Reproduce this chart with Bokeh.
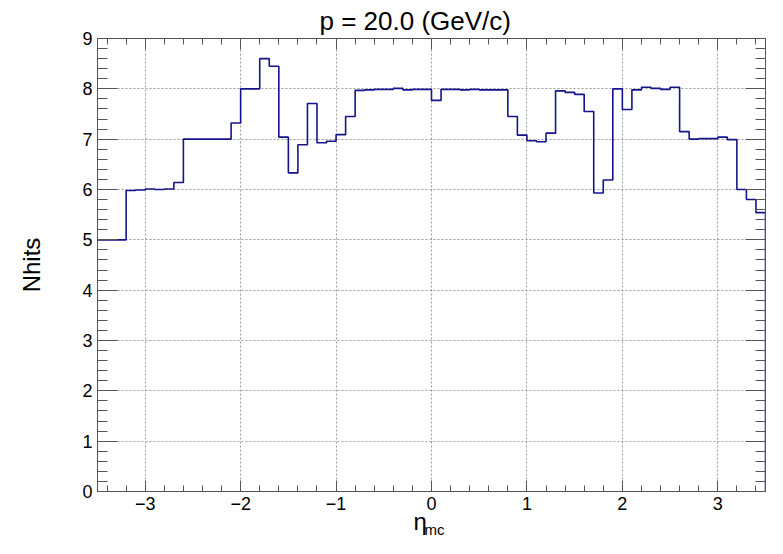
import numpy as np
from bokeh.plotting import figure
from bokeh.models import (Range1d, LinearAxis, SingleIntervalTicker, Title,
                          CustomJSTickFormatter)
from bokeh.embed import file_html
from bokeh.resources import INLINE

# ---- data: mean Nhits per eta bin (bin width 0.1, from -3.5 to 3.5) ----
bin_low = -3.5
bin_width = 0.1
nhits = [
    5.00, 5.00, 5.00, 5.98, 5.99, 6.01, 6.00, 6.01, 6.14, 7.00,   # -3.5 .. -2.6
    7.00, 7.00, 7.00, 7.00, 7.32, 8.00, 8.00, 8.60, 8.45, 7.04,   # -2.5 .. -1.6
    6.33, 6.89, 7.71, 6.93, 6.96, 7.09, 7.45, 7.97, 7.98, 7.99,   # -1.5 .. -0.6
    7.99, 8.01, 7.98, 7.99, 7.99, 7.77, 7.99, 7.99, 7.98, 7.99,   # -0.5 .. 0.4
    7.98, 7.98, 7.98, 7.45, 7.08, 6.97, 6.95, 7.12, 7.96, 7.93,   # 0.5 .. 1.4
    7.89, 7.55, 5.93, 6.19, 8.00, 7.59, 7.98, 8.03, 8.01, 7.99,   # 1.5 .. 2.4
    8.03, 7.15, 7.00, 7.01, 7.01, 7.04, 6.99, 6.00, 5.80, 5.54,   # 2.5 .. 3.4
]
title_text = "p = 20.0 (GeV/c)"
y_title = "Nhits"
x_title_main = "\u03b7"
x_title_sub = "mc"

X_MIN, X_MAX = -3.5, 3.5
Y_MIN, Y_MAX = 0, 9

# outline coordinates of the histogram
n = len(nhits)
edges = np.round(bin_low + bin_width * np.arange(n + 1), 3)
lx, ly = [], []
for i, v in enumerate(nhits):
    lx += [edges[i], edges[i + 1]]
    ly += [v, v]
lx.append(edges[-1])
ly.append(0.0)

FONT = "Liberation Sans"
FRAME = "#555555"

p = figure(width=767, height=538,
           x_range=Range1d(X_MIN, X_MAX), y_range=Range1d(Y_MIN, Y_MAX),
           output_backend="svg", toolbar_location=None,
           min_border_left=97, min_border_right=2,
           min_border_top=35, min_border_bottom=47)
p.background_fill_color = "white"
p.border_fill_color = "white"
p.outline_line_color = FRAME
p.outline_line_width = 1

minus_fmt = CustomJSTickFormatter(
    code="return tick < 0 ? '\\u2212' + (-tick) : '' + tick;")
blank_fmt = CustomJSTickFormatter(code="return '';")


def ticker():
    return SingleIntervalTicker(interval=1, num_minor_ticks=5)


xa = p.xaxis[0]
xa.ticker = ticker()
xa.formatter = minus_fmt
ya = p.yaxis[0]
ya.ticker = ticker()

for ax in (xa, ya):
    ax.axis_line_color = FRAME
    ax.major_tick_line_color = FRAME
    ax.minor_tick_line_color = FRAME
    ax.major_tick_out = 0
    ax.minor_tick_out = 0
    ax.major_label_text_font = FONT
    ax.major_label_text_font_size = "18px"
    ax.major_label_text_color = "black"
xa.major_tick_in = 11
xa.minor_tick_in = 6
xa.major_label_standoff = 5
ya.major_tick_in = 20
ya.minor_tick_in = 10
ya.major_label_standoff = 5

ya.axis_label = y_title
ya.axis_label_text_font = FONT
ya.axis_label_text_font_size = "24px"
ya.axis_label_text_font_style = "normal"
ya.axis_label_text_color = "black"
ya.axis_label_standoff = 34

top = LinearAxis(ticker=ticker(), formatter=blank_fmt,
                 major_label_standoff=0,
                 major_tick_in=11, major_tick_out=0,
                 minor_tick_in=6, minor_tick_out=0,
                 axis_line_color=FRAME, major_tick_line_color=FRAME,
                 minor_tick_line_color=FRAME)
right = LinearAxis(ticker=ticker(), formatter=blank_fmt,
                   major_label_standoff=0,
                   major_tick_in=20, major_tick_out=0,
                   minor_tick_in=10, minor_tick_out=0,
                   axis_line_color=FRAME, major_tick_line_color=FRAME,
                   minor_tick_line_color=FRAME)
p.add_layout(top, "above")
p.add_layout(right, "right")

for g in (p.xgrid[0], p.ygrid[0]):
    g.grid_line_color = "#9a9a9a"
    g.grid_line_dash = "2 2"
    g.grid_line_width = 1
p.xgrid[0].ticker = xa.ticker
p.ygrid[0].ticker = ya.ticker

p.line(lx, ly, line_color="#14148c", line_width=1.6)

# main title
p.title.text = title_text
p.title.align = "left"
p.title.offset = 222
p.title.standoff = 6
p.title.text_font = FONT
p.title.text_font_size = "26px"
p.title.text_font_style = "normal"
p.title.text_color = "black"

# x-axis title: eta with subscript "mc"
t_eta = Title(text=x_title_main, align="left", offset=316, standoff=-14,
              text_font=FONT, text_font_size="24px",
              text_font_style="normal", text_color="black")
t_sub = Title(text=x_title_sub, align="left", offset=327, standoff=-18,
              text_font=FONT, text_font_size="15px",
              text_font_style="normal", text_color="black")
p.add_layout(t_eta, "below")
p.add_layout(t_sub, "below")

open("out.html", "w").write(file_html(p, INLINE))
